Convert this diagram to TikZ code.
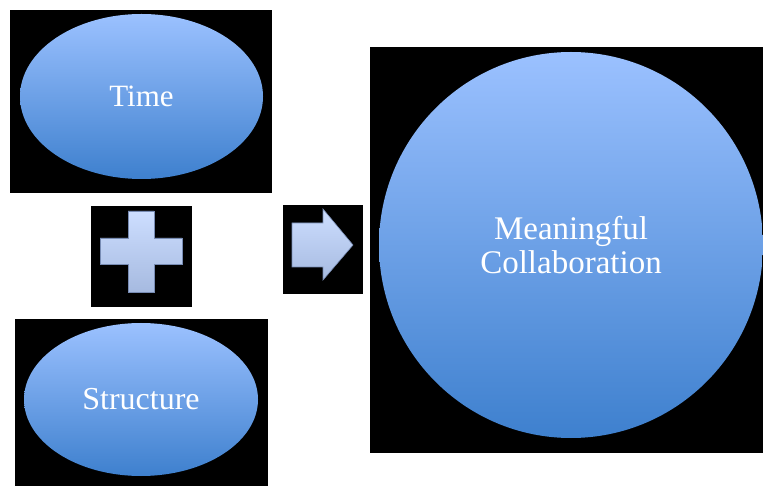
\documentclass[tikz,border=0pt]{standalone}
\usepackage{fontspec}
\setmainfont{Liberation Serif}
\usetikzlibrary{shapes.geometric}
\definecolor{blobtop}{RGB}{155,193,255}
\definecolor{blobbot}{RGB}{62,128,206}
\definecolor{signtop}{RGB}{205,222,255}
\definecolor{signbot}{RGB}{166,186,224}
\definecolor{signedge}{RGB}{120,140,180}
\tikzset{
  panel/.style={fill=black, draw=none},
  blob/.style={ellipse, inner sep=0pt, top color=blobtop, bottom color=blobbot,
    draw=none, text=white, align=center},
  sign/.style={top color=signtop, bottom color=signbot, draw=signedge, line width=0.6pt},
}
\begin{document}
\begin{tikzpicture}[x=1pt, y=-1pt]
  \useasboundingbox (0,0) rectangle (763,486);
  \fill[white] (0,0) rectangle (763,486);

  % dark panels behind each element
  \fill[panel] (10,10) rectangle (272,193);
  \fill[panel] (91,206) rectangle (192,307);
  \fill[panel] (283,205) rectangle (363,294);
  \fill[panel] (15,319) rectangle (268,486);
  \fill[panel] (370,47) rectangle (763,453);

  % inputs
  \node[blob, minimum width=243pt, minimum height=165pt, font=\fontsize{31}{36}\selectfont]
    (time) at (141.5,96.5) {Time};
  \node[blob, minimum width=234pt, minimum height=153pt, font=\fontsize{32}{36}\selectfont]
    (structure) at (141,399.5) {Structure};

  % result
  \node[blob, minimum width=384pt, minimum height=386pt, font=\fontsize{33}{33.5}\selectfont]
    (collab) at (571,245) {Meaningful\\Collaboration};

  % plus sign
  \path[sign] (128,211) -- (154,211) -- (154,238) -- (182,238) -- (182,264)
    -- (154,264) -- (154,292) -- (128,292) -- (128,264) -- (100,264)
    -- (100,238) -- (128,238) -- cycle;

  % arrow
  \path[sign] (292,223) -- (323,223) -- (323,209) -- (353,245) -- (323,280)
    -- (323,267) -- (292,267) -- cycle;
\end{tikzpicture}
\end{document}
